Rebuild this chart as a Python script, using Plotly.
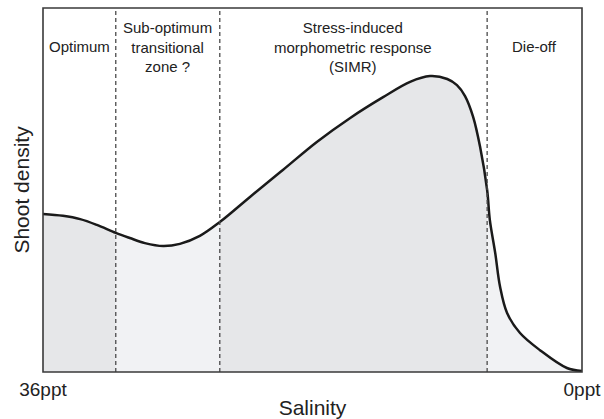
import plotly.graph_objects as go

# Curve (x: 0 = 36ppt ... 100 = 0ppt, y: relative shoot density 0..100)
curve_x = [0, 3.7, 6.9, 10.0, 13.5, 16.1, 18.9, 22.3, 25.4, 29.1, 32.8, 38.4, 44.5, 50.8,
           57.0, 63.1, 68.1, 71.8, 75.0, 76.8, 78.3, 79.8, 81.1, 82.4, 82.9, 83.9, 84.8,
           86.1, 88.5, 92.2, 97.2, 100]
curve_y = [43.4, 42.9, 42.0, 40.4, 38.2, 36.8, 35.4, 34.6, 35.2, 37.4, 41.2, 48.1, 55.5, 63.2,
           69.8, 75.5, 79.7, 81.3, 80.5, 78.8, 75.8, 70.1, 61.8, 50.0, 41.8, 32.7, 23.4,
           16.2, 10.7, 6.0, 1.1, 0.3]

# Zone boundaries (x in same units)
zone_edges = [0, 13.5, 32.8, 82.4, 100]
zone_labels = ["Optimum", "Sub-optimum<br>transitional<br>zone ?",
               "Stress-induced<br>morphometric response<br>(SIMR)", "Die-off"]
zone_shades = ["#e6e7e9", "#f1f2f4", "#e6e7e9", "#f1f2f4"]

tick_vals = [0, 100]
tick_text = ["36ppt", "0ppt"]

Y_TOP = 100
FONT = "Liberation Sans, Arial, sans-serif"

fig = go.Figure()

# top boundary (invisible) to fill white above the curve
fig.add_trace(go.Scatter(x=[0, 100], y=[Y_TOP, Y_TOP], mode="lines",
                         line=dict(width=0, color="rgba(0,0,0,0)"),
                         hoverinfo="skip", showlegend=False))
fig.add_trace(go.Scatter(x=curve_x, y=curve_y, mode="lines",
                         line=dict(color="#1a1a1a", width=2.5, shape="spline", smoothing=1.0),
                         fill="tonexty", fillcolor="white",
                         hoverinfo="skip", showlegend=False))

shapes = []
for i in range(4):
    shapes.append(dict(type="rect", xref="x", yref="y", x0=zone_edges[i], x1=zone_edges[i + 1],
                       y0=0, y1=Y_TOP, fillcolor=zone_shades[i], line=dict(width=0), layer="below"))
for xe in zone_edges[1:-1]:
    shapes.append(dict(type="line", xref="x", yref="y", x0=xe, x1=xe, y0=0, y1=Y_TOP,
                       line=dict(color="#4a4a4a", width=1.3, dash="4px,3px"), layer="above"))
shapes.append(dict(type="rect", xref="paper", yref="paper", x0=0, x1=1, y0=0, y1=1,
                   line=dict(color="#3a3a3a", width=1.6), fillcolor="rgba(0,0,0,0)", layer="above"))

annotations = []
for i, lab in enumerate(zone_labels):
    annotations.append(dict(x=(zone_edges[i] + zone_edges[i + 1]) / 2, xref="x",
                            y=0.894, yref="paper", text=lab, showarrow=False,
                            xanchor="center", yanchor="middle",
                            font=dict(family=FONT, size=15, color="#222")))

fig.update_layout(
    width=604, height=419,
    margin=dict(l=43, r=22, t=8, b=47),
    paper_bgcolor="white", plot_bgcolor="white",
    shapes=shapes, annotations=annotations,
    font=dict(family=FONT, color="#222"),
    xaxis=dict(range=[0, 100], showgrid=False, zeroline=False, showline=False,
               tickvals=tick_vals, ticktext=tick_text, ticks="", ticklabelstandoff=4,
               automargin=False,
               tickfont=dict(size=19, color="#222"),
               title=dict(text="Salinity", font=dict(size=21, color="#222"), standoff=3)),
    yaxis=dict(range=[0, Y_TOP], showgrid=False, zeroline=False, showline=False,
               showticklabels=False, ticks="", automargin=False,
               title=dict(text="Shoot density", font=dict(size=21, color="#222"), standoff=6)),
)

# remove the default page margin/scrollbars so the figure fills the window exactly
fig.write_html("out.html",
               config={"displayModeBar": False, "staticPlot": True},
               post_script="document.documentElement.style.margin='0';"
                           "document.body.style.margin='0';"
                           "document.body.style.overflow='hidden';"
                           "document.documentElement.style.overflow='hidden';")
